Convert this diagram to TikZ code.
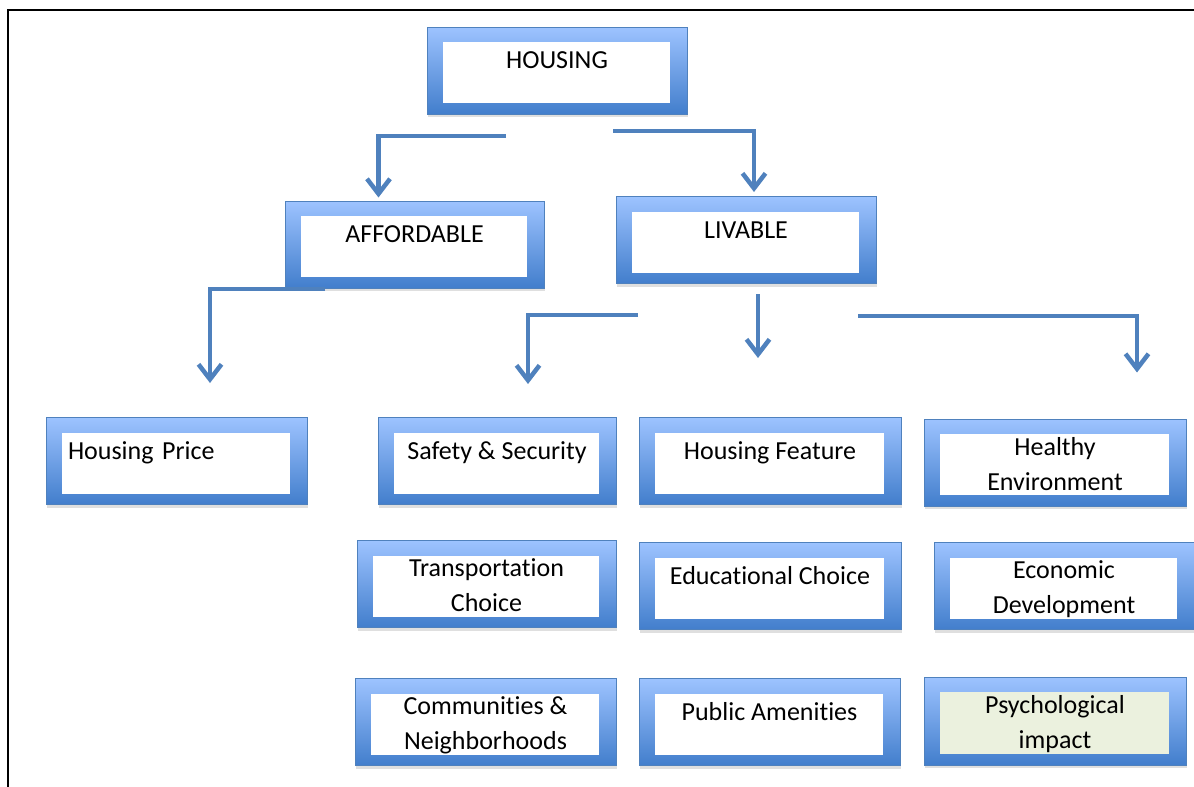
\documentclass[tikz,border=0pt]{standalone}
\usepackage{fontspec}
\setmainfont{Carlito}[Ligatures=NoCommon]
\usetikzlibrary{arrows.meta,shadows}
\definecolor{boxtop}{RGB}{157,195,255}
\definecolor{boxbot}{RGB}{66,126,204}
\definecolor{boxline}{RGB}{79,129,189}
\definecolor{linkblue}{RGB}{79,129,189}
\definecolor{softgreen}{RGB}{235,241,222}

\begin{document}
\begin{tikzpicture}[x=1pt, y=-1pt,
                    inset/.store in=\boxfill,
                    box/.style = {rectangle, minimum width=260pt, minimum height=87pt, inner sep=0pt,
                                  top color=boxtop, bottom color=boxbot, draw=boxline, line width=1pt,
                                  inset=white, font=\fontsize{26}{35}\selectfont, align=center,
                                  drop shadow={shadow xshift=1pt, shadow yshift=-3pt, opacity=0.25},
                                  path picture={\path[fill=\boxfill] ([xshift=16pt,yshift=-15pt]path picture bounding box.north west)
                                                rectangle ([xshift=-17pt,yshift=11pt]path picture bounding box.south east);}},
                    one/.style = {text height=17pt, text depth=21pt},
                    two/.style = {text height=55pt, text depth=0pt},
                    link/.style = {draw=linkblue, line width=4.5pt, -{Straight Barb[length=15pt,width=23pt]}}]
    \useasboundingbox (0,0) rectangle (1194,787);
    \draw[line width=2pt] (8,787) -- (8,10) -- (1194,10);

    \node[box, one] (hous) at (557,70.5) {HOUSING};
    \node[box, one, minimum width=259pt] (afford) at (414.5,244.5) {AFFORDABLE};
    \node[box, one] (liv) at (746,240) {LIVABLE};

    \node[box, one, minimum width=261pt, text width=217pt, align=left] (price) at (176.5,461) {Housing Price};
    \node[box, one, minimum width=238pt] (safe) at (497,461) {Safety \& Security};
    \node[box, one, minimum width=262pt] (feat) at (770,461) {Housing Feature};
    \node[box, two, minimum width=262pt] (health) at (1055,462.5) {Healthy\\Environment};
    \node[box, two, minimum width=259pt] (trans) at (486.5,584) {Transportation\\Choice};
    \node[box, one, minimum width=262pt] (edu) at (770,586) {Educational Choice};
    \node[box, two] (econ) at (1064,586) {Economic\\Development};
    \node[box, two, minimum width=261pt] (comm) at (485.5,722) {Communities \&\\Neighborhoods};
    \node[box, one, minimum width=261pt] (amen) at (769.5,722) {Public Amenities};
    \node[box, two, minimum width=262pt, minimum height=88pt, inset=softgreen] (psych) at (1055,721) {Psychological\\impact};

    \coordinate (h1) at (506,136);
    \coordinate (h2) at (613,131);
    \coordinate (a1) at (325,289);
    \coordinate (l1) at (638,315);
    \coordinate (l2) at (758,294);
    \coordinate (l3) at (858,316);
    \draw[link] (h1) -| ([xshift=-36pt,yshift=3pt]afford.north);
    \draw[link] (h2) -| ([xshift=8pt,yshift=4pt]liv.north);
    \draw[link] (a1) -| ([xshift=33.5pt,yshift=34pt]price.north);
    \draw[link] (l1) -| ([xshift=31pt,yshift=33pt]safe.north);
    \draw[link] (l2) -- ([xshift=-12pt,yshift=59pt]feat.north);
    \draw[link] (l3) -| ([xshift=82pt,yshift=46pt]health.north);
\end{tikzpicture}
\end{document}
